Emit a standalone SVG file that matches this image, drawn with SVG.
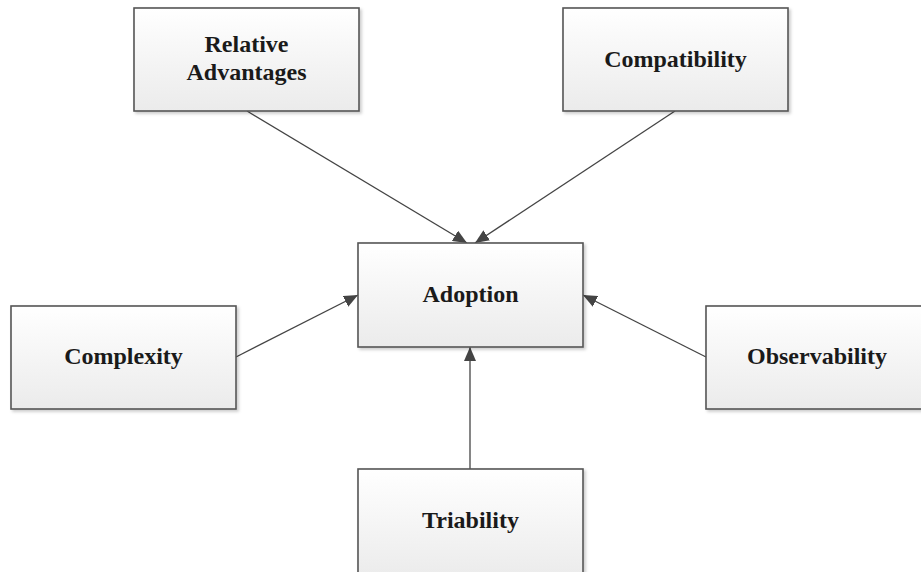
<svg xmlns="http://www.w3.org/2000/svg" width="921" height="572" viewBox="0 0 921 572">
<style>
.box{fill:url(#g);stroke:#555;stroke-width:1.6;filter:url(#sh)}
.lbl{font-family:"Liberation Serif","Times New Roman",serif;font-weight:bold;font-size:24px;fill:#1a1a1a;text-anchor:middle}
.con{stroke:#444;stroke-width:1.3;fill:none;marker-end:url(#ah)}
</style>
<defs>
<linearGradient id="g" x1="0" y1="0" x2="0" y2="1">
<stop offset="0" stop-color="#ffffff"/>
<stop offset="1" stop-color="#ebebeb"/>
</linearGradient>
<filter id="sh" x="-5%" y="-5%" width="115%" height="115%">
<feDropShadow dx="2" dy="2" stdDeviation="1.5" flood-color="#000" flood-opacity="0.2"/>
</filter>
<marker id="ah" viewBox="0 0 14 12" refX="14" refY="6" markerWidth="14" markerHeight="12" markerUnits="userSpaceOnUse" orient="auto">
<path d="M0,0 L14,6 L0,12 Z" fill="#444"/>
</marker>
</defs>
<rect width="921" height="572" fill="#fff"/>
<g id="connectors">
<line class="con" x1="247" y1="111" x2="467" y2="243"/>
<line class="con" x1="675" y1="111" x2="475" y2="243"/>
<line class="con" x1="236" y1="357" x2="358" y2="295"/>
<line class="con" x1="706" y1="357" x2="583" y2="295"/>
<line class="con" x1="470" y1="469" x2="470" y2="347"/>
</g>
<g id="relative-advantages">
<rect class="box" x="134" y="8" width="225" height="103"/>
<text class="lbl" x="246.5" y="52">Relative</text>
<text class="lbl" x="246.5" y="80">Advantages</text>
</g>
<g id="compatibility">
<rect class="box" x="563" y="8" width="225" height="103"/>
<text class="lbl" x="675.5" y="67">Compatibility</text>
</g>
<g id="adoption">
<rect class="box" x="358" y="243" width="225" height="104"/>
<text class="lbl" x="470.5" y="302">Adoption</text>
</g>
<g id="complexity">
<rect class="box" x="11" y="306" width="225" height="103"/>
<text class="lbl" x="123.5" y="364">Complexity</text>
</g>
<g id="observability">
<rect class="box" x="706" y="306" width="225" height="103"/>
<text class="lbl" x="817" y="364">Observability</text>
</g>
<g id="triability">
<rect class="box" x="358" y="469" width="225" height="110"/>
<text class="lbl" x="470.5" y="528">Triability</text>
</g>
</svg>
